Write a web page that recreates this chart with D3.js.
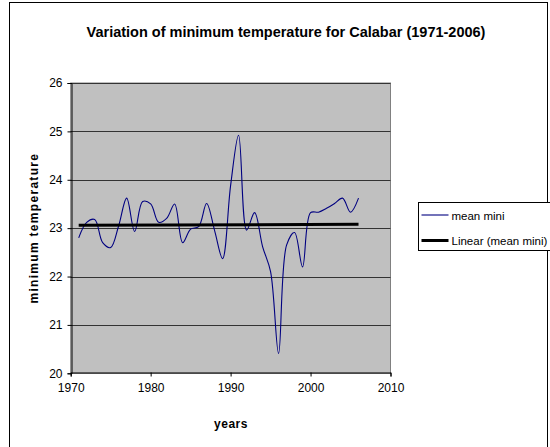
<!DOCTYPE html>
<html>
<head>
<meta charset="utf-8">
<script src="https://cdn.jsdelivr.net/npm/d3@7"></script>
<style>
  body { margin: 0; background: #fff; }
  svg { display: block; font-family: "Liberation Sans", Arial, sans-serif; }
</style>
</head>
<body>
<div id="chart"></div>
<script>
var years = [1971, 1972, 1973, 1974, 1975, 1976, 1977, 1978, 1979, 1980,
             1981, 1982, 1983, 1984, 1985, 1986, 1987, 1988, 1989, 1990,
             1991, 1992, 1993, 1994, 1995, 1996, 1997, 1998, 1999, 2000,
             2001, 2002, 2003, 2004, 2005, 2006];
var meanMini = [22.80, 23.12, 23.18, 22.70, 22.60, 23.05, 23.62, 22.93, 23.55, 23.50,
                23.12, 23.20, 23.50, 22.70, 22.98, 23.03, 23.51, 22.95, 22.37, 23.88,
                24.92, 22.96, 23.32, 22.62, 22.10, 20.41, 22.65, 22.91, 22.20, 23.32,
                23.33, 23.41, 23.51, 23.62, 23.33, 23.62];
var xTicks = [1970, 1980, 1990, 2000, 2010];
var yTicks = [20, 21, 22, 23, 24, 25, 26];
var seriesNames = ["mean mini", "Linear (mean mini)"];

var data = years.map(function(y, i) { return { year: y, value: meanMini[i] }; });

// least squares trend, like excel's linear trendline
var mx = d3.mean(years), my = d3.mean(meanMini);
var sxy = d3.sum(data, function(d) { return (d.year - mx) * (d.value - my); });
var sxx = d3.sum(years, function(y) { return (y - mx) * (y - mx); });
var slope = sxy / sxx, icpt = my - slope * mx;
var trend = [years[0], years[years.length - 1]].map(function(y) {
    return { year: y, value: icpt + slope * y };
});

var width = 550, height = 447;
var plot = { left: 70.7, right: 390.5, top: 83, bottom: 373.3 };

var x = d3.scaleLinear().domain([1970, 2010]).range([plot.left, plot.right]);
var y = d3.scaleLinear().domain([20, 26]).range([plot.bottom, plot.top]);

var svg = d3.select("#chart").append("svg")
    .attr("width", width)
    .attr("height", height);

svg.append("rect")
    .attr("x", 9.5).attr("y", 2.5)
    .attr("width", 538).attr("height", 460)
    .attr("fill", "#fff").attr("stroke", "#000");

svg.append("text")
    .attr("x", 286).attr("y", 37)
    .attr("text-anchor", "middle")
    .style("font-size", "14.5px").style("font-weight", "bold")
    .text("Variation of minimum temperature for Calabar (1971-2006)");

svg.append("rect")
    .attr("x", plot.left).attr("y", plot.top)
    .attr("width", plot.right - plot.left).attr("height", plot.bottom - plot.top)
    .attr("fill", "#c0c0c0").attr("stroke", "#808080");

// gridlines
svg.append("g").selectAll("line").data(yTicks.slice(1)).enter().append("line")
    .attr("x1", plot.left).attr("x2", plot.right)
    .attr("y1", function(d) { return Math.round(y(d)) + 0.5; })
    .attr("y2", function(d) { return Math.round(y(d)) + 0.5; })
    .attr("stroke", "#333").attr("stroke-width", 1);

var xAxis = svg.append("g")
    .attr("transform", "translate(0," + (Math.round(plot.bottom) - 0.5) + ")")
    .call(d3.axisBottom(x).tickValues(xTicks).tickFormat(d3.format("d")).tickSize(4).tickPadding(7));

var yAxis = svg.append("g")
    .attr("transform", "translate(" + (Math.round(plot.left) + 0.5) + ",0)")
    .call(d3.axisLeft(y).tickValues(yTicks).tickFormat(d3.format("d")).tickSize(4).tickPadding(5));

[xAxis, yAxis].forEach(function(a) {
    a.select(".domain").attr("stroke", "#000");
    a.selectAll(".tick line").attr("stroke", "#000");
    a.selectAll("text").attr("fill", "#000")
        .style("font-size", "12px")
        .style("font-family", "'Liberation Sans', Arial, sans-serif");
});

var line = d3.line()
    .x(function(d) { return x(d.year); })
    .y(function(d) { return y(d.value); });

svg.append("path").datum(data)
    .attr("d", line.curve(d3.curveCatmullRom.alpha(0.5)))
    .attr("fill", "none").attr("stroke", "#000080").attr("stroke-width", 1.1);

svg.append("path").datum(trend)
    .attr("d", d3.line().x(function(d) { return x(d.year); }).y(function(d) { return y(d.value); }))
    .attr("fill", "none").attr("stroke", "#000").attr("stroke-width", 3);

svg.append("text")
    .attr("transform", "translate(38," + ((plot.top + plot.bottom) / 2) + ") rotate(-90)")
    .attr("text-anchor", "middle")
    .style("font-size", "12px").style("font-weight", "bold").style("letter-spacing", "1.3px")
    .text("minimum temperature");

svg.append("text")
    .attr("x", 231).attr("y", 428)
    .attr("text-anchor", "middle")
    .style("font-size", "12px").style("font-weight", "bold").style("letter-spacing", "0.5px")
    .text("years");

// legend
var legend = svg.append("g");
legend.append("rect")
    .attr("x", 418.5).attr("y", 202.5)
    .attr("width", 140).attr("height", 48)
    .attr("fill", "#fff").attr("stroke", "#000");
var li = legend.selectAll("g.item").data(seriesNames).enter().append("g")
    .attr("class", "item")
    .attr("transform", function(d, i) { return "translate(0," + (215 + i * 25.5) + ")"; });
li.append("line")
    .attr("x1", 421.5).attr("x2", 448.5)
    .attr("stroke", function(d, i) { return i == 0 ? "#000080" : "#000"; })
    .attr("stroke-width", function(d, i) { return i == 0 ? 1.1 : 3; });
li.append("text")
    .attr("x", 451.5).attr("y", 4.5)
    .style("font-size", "11.5px")
    .text(function(d) { return d; });
</script>
</body>
</html>
